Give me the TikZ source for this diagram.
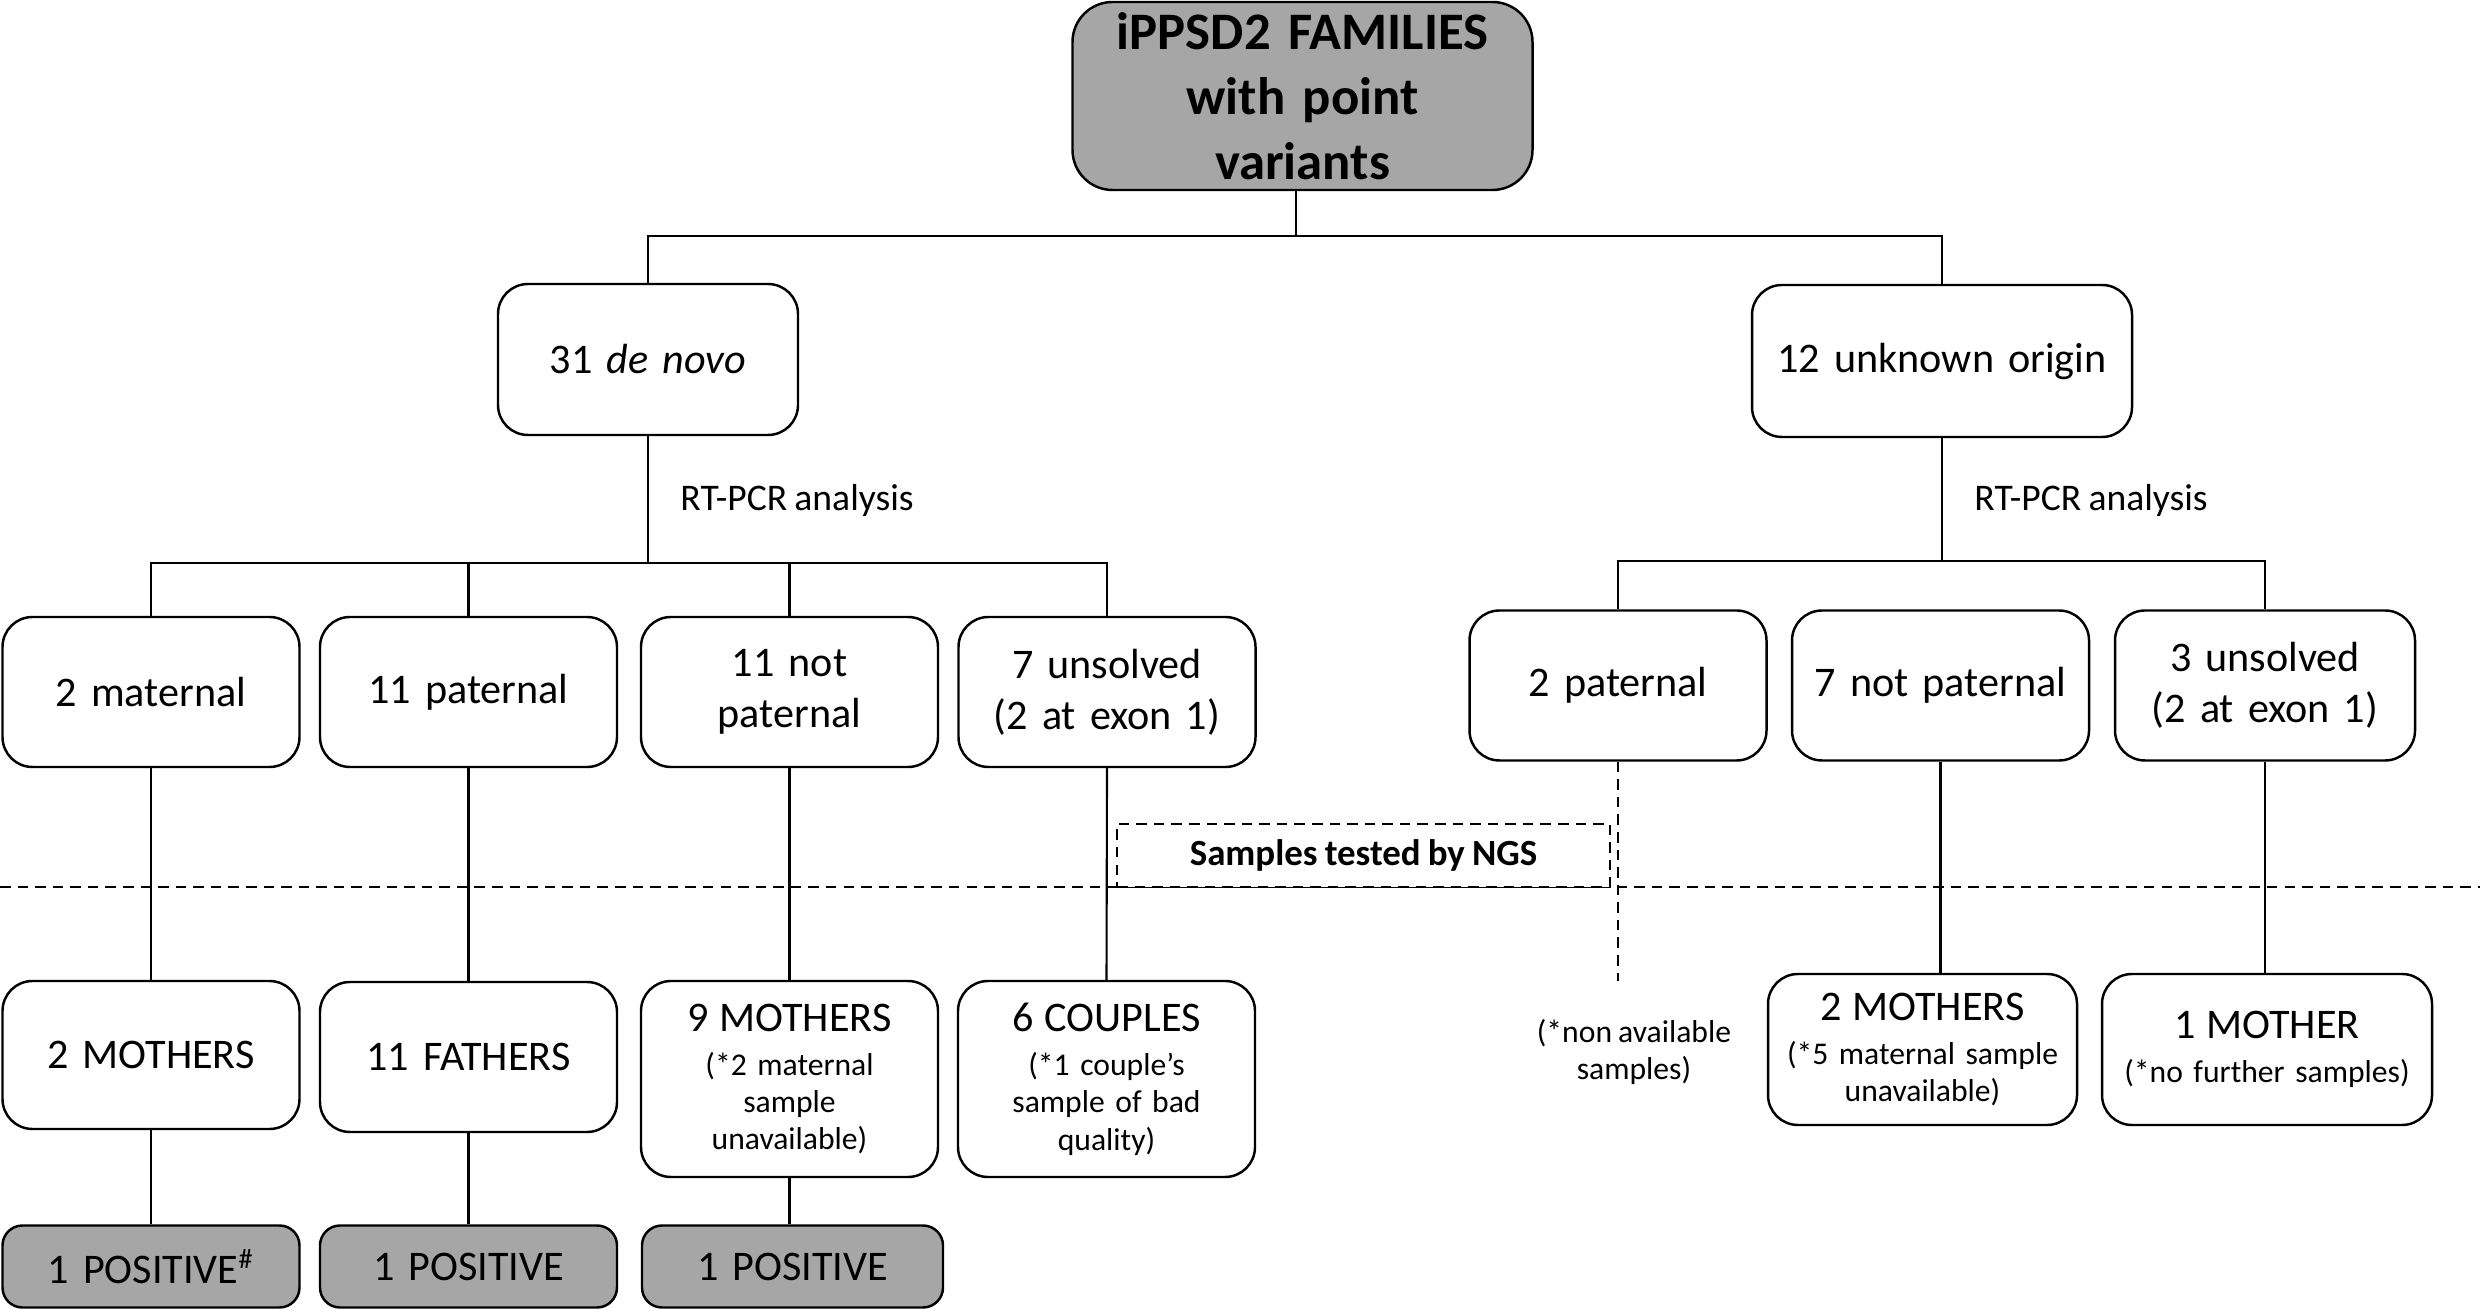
\documentclass[tikz,border=0pt]{standalone}
\usepackage{fontspec}
\setmainfont{Carlito}[WordSpace=0.85]
\newcommand{\sm}{\fontsize{9}{10.6}\selectfont}
\newcommand{\bg}{\fontsize{12}{14.4}\selectfont}
\definecolor{boxgray}{RGB}{166,166,166}

\tikzset{
  box/.style={draw, line width=0.7pt, rounded corners=0.3cm, inner sep=0pt, align=center, font=\bg},
  lvl/.style={box, text width=2.97cm, minimum height=1.5cm},
  notebox/.style={lvl, font=\sm},
  posbox/.style={box, fill=boxgray, text width=2.97cm, minimum height=0.82cm, rounded corners=0.2cm},
  link/.style={line width=0.6pt},
  ngsline/.style={line width=0.6pt, dash pattern=on 3pt off 2pt}
}

\begin{document}
\begin{tikzpicture}
%\draw [help lines,black!20!white] (0,-13) grid (25,0);
\useasboundingbox (0,0) rectangle (24.8,-13.09);

\node[box, fill=boxgray, text width=4.6cm, minimum height=1.88cm, rounded corners=0.4cm, font=\bfseries\fontsize{15}{18.5}\selectfont] (fam) at (13.025,-0.96) {iPPSD2 FAMILIES\\ with point\\ variants};

\node[box, text width=3cm, minimum height=1.51cm] (denovo) at (6.48,-3.595) {31 \textit{de novo}};
\node[box, text width=3.8cm, minimum height=1.52cm] (unknown) at (19.42,-3.61) {12 unknown origin};

\coordinate (bar0) at (12.96,-2.36);
\draw[link] (fam.south -| bar0) -- (bar0);
\draw[link] (denovo.north) |- (bar0) -| (unknown.north);

% RT-PCR split
\path (denovo.south) ++(0,-1.27) coordinate (barL);
\path (unknown.south) ++(0,-1.23) coordinate (barR);
\node[font=\fontsize{10.7}{13}\selectfont, anchor=west] (rtL) at (6.68,-5.00) {RT-PCR analysis};
\node[font=\fontsize{10.7}{13}\selectfont, anchor=west] (rtR) at (19.62,-5.00) {RT-PCR analysis};

\node[lvl] (mat) at (1.51,-6.92) {2 maternal};
\node[lvl] (pat) at (4.685,-6.92) {11 paternal};
\node[lvl] (notpat) at (7.895,-6.92) {11 not\\ paternal};
\node[lvl] (unsolv) at (11.07,-6.92) {7 unsolved\\ (2 at exon 1)};

\node[lvl] (rpat) at (16.18,-6.855) {2 paternal};
\node[lvl] (rnotpat) at (19.405,-6.855) {7 not paternal};
\node[lvl, text width=3cm] (runsolv) at (22.65,-6.855) {3 unsolved\\ (2 at exon 1)};

\draw[link] (denovo.south) -- (barL);
\draw[link] (mat.north) |- (barL) -| (unsolv.north);
\draw[link] (pat.north) -- (pat.north |- barL);
\draw[link] (notpat.north) -- (notpat.north |- barL);
\draw[link] (unknown.south) -- (barR);
\draw[link] (rpat.north) |- (barR) -| (runsolv.north);

% NGS line
\coordinate (ngsW) at (0,-8.87);
\coordinate (ngsE) at (24.8,-8.87);
\draw[ngsline] (ngsW) -- (ngsE);
\node[draw, ngsline, fill=white, minimum width=4.93cm, minimum height=0.63cm, inner sep=0pt, font=\bfseries\fontsize{10.5}{12}\selectfont] (ngs) at (13.635,-8.555) {Samples tested by NGS};

\node[lvl, minimum height=1.48cm] (mothers) at (1.51,-10.55) {2 MOTHERS};
\node[lvl] (fathers) at (4.685,-10.57) {11 FATHERS};
\node[notebox, minimum height=1.96cm] (nine) at (7.895,-10.79) {{\bg 9 MOTHERS}\\[2pt] (*2 maternal\\ sample\\ unavailable)};
\node[notebox, minimum height=1.96cm] (couples) at (11.065,-10.79) {{\bg 6 COUPLES}\\[2pt] (*1 couple's\\ sample of bad\\ quality)};

\node[notebox, text width=3.09cm, minimum height=1.51cm] (rmothers) at (19.225,-10.495) {{\bg 2 MOTHERS}\\[2pt] (*5 maternal sample\\ unavailable)};
\node[notebox, text width=3.3cm, minimum height=1.51cm] (rmother) at (22.67,-10.495) {{\bg 1 MOTHER}\\[2pt] (*no further samples)};
\node[align=center, font=\sm] (nona) at (16.34,-10.52) {(*non available\\ samples)};

\coordinate (naend) at (16.18,-9.81);
\draw[ngsline] (rpat.south) -- (naend);

\draw[link] (mat.south) -- (mothers.north);
\draw[link] (pat.south) -- (fathers.north);
\draw[link] (notpat.south) -- (nine.north);
\draw[link] (unsolv.south) -- (couples.north);
\draw[link] (rnotpat.south) -- (rnotpat.south |- rmothers.north);
\draw[link] (runsolv.south) -- (runsolv.south |- rmother.north);

\node[posbox] (pos1) at (1.51,-12.665) {1 POSITIVE\textsuperscript{\#}};
\node[posbox] (pos2) at (4.685,-12.665) {1 POSITIVE};
\node[posbox, text width=3.01cm] (pos3) at (7.925,-12.665) {1 POSITIVE};

\draw[link] (mothers.south) -- (pos1.north);
\draw[link] (fathers.south) -- (pos2.north);
\draw[link] (nine.south) -- (nine.south |- pos3.north);

\end{tikzpicture}
\end{document}
